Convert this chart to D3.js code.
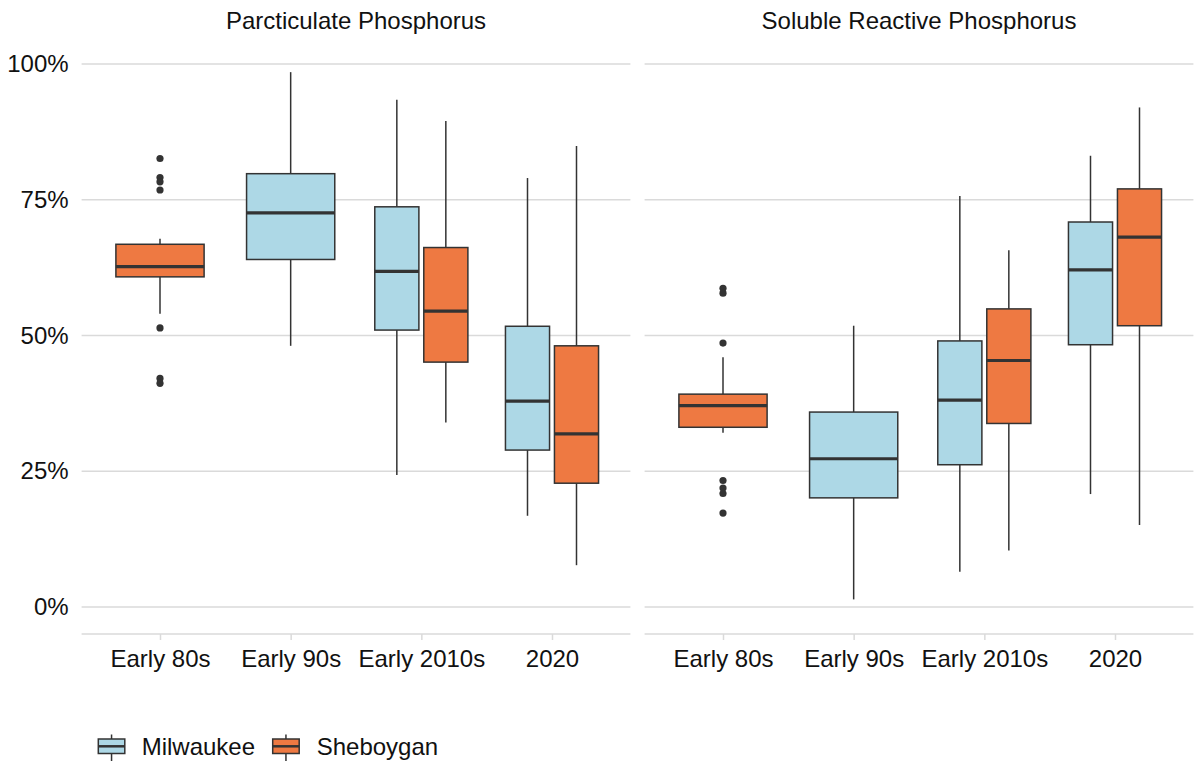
<!DOCTYPE html>
<html>
<head>
<meta charset="utf-8">
<script src="https://cdn.jsdelivr.net/npm/d3@7"></script>
<style>
  html, body { margin: 0; padding: 0; background: #fff; }
  svg { display: block; font-family: "Liberation Sans", Arial, sans-serif; }
</style>
</head>
<body>
<svg id="chart" width="1196" height="765"></svg>
<script>
// Facets, categories and sites
const panels = ["Parcticulate Phosphorus", "Soluble Reactive Phosphorus"];
const categories = ["Early 80s", "Early 90s", "Early 2010s", "2020"];
const sites = ["Milwaukee", "Sheboygan"];
const siteColors = ["#ADD8E6", "#EE7942"];
const yTicks = [0, 0.25, 0.5, 0.75, 1];

// Box summaries, one entry per box (fractions of total phosphorus)
const boxPanel    = [0, 0, 0, 0, 0, 0, 1, 1, 1, 1, 1, 1];
const boxCategory = ["Early 80s", "Early 90s", "Early 2010s", "Early 2010s", "2020", "2020",
                     "Early 80s", "Early 90s", "Early 2010s", "Early 2010s", "2020", "2020"];
const boxSite     = ["Sheboygan", "Milwaukee", "Milwaukee", "Sheboygan", "Milwaukee", "Sheboygan",
                     "Sheboygan", "Milwaukee", "Milwaukee", "Sheboygan", "Milwaukee", "Sheboygan"];
const whiskerLow  = [0.540, 0.481, 0.243, 0.340, 0.168, 0.077, 0.321, 0.014, 0.065, 0.104, 0.208, 0.151];
const lowerQuart  = [0.608, 0.640, 0.510, 0.451, 0.289, 0.228, 0.331, 0.201, 0.262, 0.338, 0.483, 0.518];
const medians     = [0.627, 0.726, 0.618, 0.545, 0.379, 0.319, 0.371, 0.273, 0.381, 0.454, 0.621, 0.681];
const upperQuart  = [0.668, 0.798, 0.737, 0.662, 0.517, 0.481, 0.392, 0.359, 0.490, 0.549, 0.709, 0.770];
const whiskerHigh = [0.678, 0.985, 0.934, 0.895, 0.790, 0.849, 0.460, 0.518, 0.757, 0.657, 0.831, 0.920];
const outliers    = [
  [0.826, 0.791, 0.783, 0.768, 0.514, 0.421, 0.412], [], [], [], [], [],
  [0.587, 0.578, 0.486, 0.233, 0.219, 0.209, 0.173], [], [], [], [], []
];

const boxes = boxPanel.map((p, i) => ({
  panel: p, category: boxCategory[i], site: boxSite[i],
  lo: whiskerLow[i], q1: lowerQuart[i], med: medians[i], q3: upperQuart[i], hi: whiskerHigh[i],
  out: outliers[i]
}));

const svg = d3.select("#chart");
const W = 1196;
const gridColor = "#DADADA";
const inkColor = "#333333";
const fontSize = 24;

const panelRanges = [[81.6, 630.4], [644.6, 1193.4]];
const y = d3.scaleLinear().domain([0, 1]).range([607, 64]);
const color = d3.scaleOrdinal().domain(sites).range(siteColors);
const axisY = 634;

panels.forEach((title, pi) => {
  const [x0, x1] = panelRanges[pi];
  const x = d3.scalePoint().domain(categories).range([x0, x1]).padding(0.6);
  const g = svg.append("g");

  // horizontal grid
  g.selectAll("line.grid").data(yTicks).join("line")
    .attr("class", "grid")
    .attr("x1", x0).attr("x2", x1)
    .attr("y1", d => y(d)).attr("y2", d => y(d))
    .attr("stroke", gridColor).attr("stroke-width", 1.5);

  // bottom axis line + ticks + labels
  g.append("line").attr("x1", x0).attr("x2", x1).attr("y1", axisY).attr("y2", axisY)
    .attr("stroke", gridColor).attr("stroke-width", 1.5);
  const xAxis = g.append("g").attr("transform", `translate(0,${axisY})`)
    .call(d3.axisBottom(x).tickSize(6).tickPadding(10));
  xAxis.select(".domain").remove();
  xAxis.selectAll(".tick line").attr("stroke", gridColor).attr("stroke-width", 1.5);
  xAxis.selectAll(".tick text").attr("fill", "#111").attr("font-size", fontSize)
    .attr("font-family", "Liberation Sans, Arial, sans-serif");

  // y labels on the first panel only
  if (pi === 0) {
    const yAxis = g.append("g").attr("transform", `translate(${x0},0)`)
      .call(d3.axisLeft(y).tickValues(yTicks).tickFormat(d3.format(".0%")).tickSize(0).tickPadding(13));
    yAxis.select(".domain").remove();
    yAxis.selectAll(".tick text").attr("fill", "#111").attr("font-size", fontSize)
      .attr("font-family", "Liberation Sans, Arial, sans-serif");
  }

  // strip title
  g.append("text").attr("x", (x0 + x1) / 2).attr("y", 29)
    .attr("text-anchor", "middle").attr("font-size", fontSize).attr("fill", "#111")
    .text(title);

  // dodged boxes
  const step = x.step();
  const panelBoxes = boxes.filter(b => b.panel === pi);
  panelBoxes.forEach(b => {
    const groupSites = sites.filter(s => panelBoxes.some(o => o.category === b.category && o.site === s));
    const n = groupSites.length;
    const total = 0.75 * step;
    const slot = total / n;
    const idx = groupSites.indexOf(b.site);
    const cx = x(b.category) - total / 2 + slot * (idx + 0.5);
    const bw = slot * 0.9;

    const bg = g.append("g");
    bg.append("line").attr("x1", cx).attr("x2", cx).attr("y1", y(b.hi)).attr("y2", y(b.q3))
      .attr("stroke", inkColor).attr("stroke-width", 1.5);
    bg.append("line").attr("x1", cx).attr("x2", cx).attr("y1", y(b.q1)).attr("y2", y(b.lo))
      .attr("stroke", inkColor).attr("stroke-width", 1.5);
    bg.append("rect").attr("x", cx - bw / 2).attr("width", bw)
      .attr("y", y(b.q3)).attr("height", y(b.q1) - y(b.q3))
      .attr("fill", color(b.site)).attr("stroke", inkColor).attr("stroke-width", 1.5);
    bg.append("line").attr("x1", cx - bw / 2).attr("x2", cx + bw / 2)
      .attr("y1", y(b.med)).attr("y2", y(b.med))
      .attr("stroke", inkColor).attr("stroke-width", 3.2);
    bg.selectAll("circle").data(b.out).join("circle")
      .attr("cx", cx).attr("cy", d => y(d)).attr("r", 3.6).attr("fill", inkColor);
  });
});

// legend
const legend = svg.append("g");
const legendItems = [{ site: "Milwaukee", kx: 98.3, tx: 141.7 }, { site: "Sheboygan", kx: 272.7, tx: 316.7 }];
legendItems.forEach(it => {
  const kw = 26.5, cx = it.kx + kw / 2;
  legend.append("line").attr("x1", cx).attr("x2", cx).attr("y1", 734.5).attr("y2", 761)
    .attr("stroke", inkColor).attr("stroke-width", 1.5);
  legend.append("rect").attr("x", it.kx).attr("y", 739).attr("width", kw).attr("height", 14.5)
    .attr("fill", color(it.site)).attr("stroke", inkColor).attr("stroke-width", 1.5);
  legend.append("line").attr("x1", it.kx).attr("x2", it.kx + kw).attr("y1", 746.3).attr("y2", 746.3)
    .attr("stroke", inkColor).attr("stroke-width", 2.5);
  legend.append("text").attr("x", it.tx).attr("y", 755).attr("font-size", fontSize).attr("fill", "#111")
    .text(it.site);
});
</script>
</body>
</html>
